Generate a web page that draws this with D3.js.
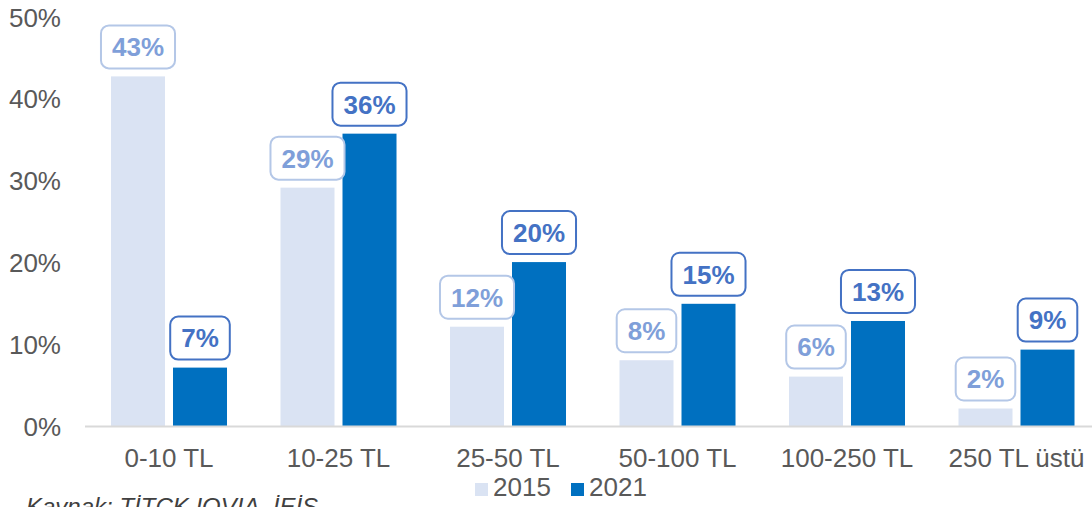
<!doctype html>
<html>
  <head>
    <meta charset="utf-8">
    <script src="https://cdnjs.cloudflare.com/ajax/libs/d3/7.8.5/d3.min.js"></script>
    <style>
      body { margin: 0; background: #fff; }
      svg { font-family: Arial, "Liberation Sans", sans-serif; display: block; }
      .tick-label { fill: #595959; font-size: 26px; }
      .legend-label { fill: #595959; font-size: 26px; }
      .source { fill: #404040; font-size: 24px; font-style: italic; }
      .val { font-size: 26px; font-weight: bold; }
    </style>
  </head>
  <body>
    <svg id="chart" width="1092" height="507"></svg>
    <script>
      var categories = ["0-10 TL", "10-25 TL", "25-50 TL", "50-100 TL", "100-250 TL", "250 TL üstü"];
      var seriesNames = ["2015", "2021"];
      var values2015 = [42.8, 29.2, 12.2, 8.1, 6.1, 2.2];
      var values2021 = [7.2, 35.8, 20.1, 15.0, 12.9, 9.4];
      var yTicks = [0, 10, 20, 30, 40, 50];

      var colors = { "2015": "#DAE3F3", "2021": "#0070C0" };
      var labelText = { "2015": "#7F9FD9", "2021": "#4472C4" };
      var labelStroke = { "2015": "#B4C7E7", "2021": "#4472C4" };

      var svg = d3.select("#chart");

      var x0 = d3.scaleBand()
        .domain(categories)
        .range([84.25, 1101.25])
        .paddingInner(0.3156)
        .paddingOuter(0.1578);

      var x1 = d3.scaleBand()
        .domain(seriesNames)
        .range([0, x0.bandwidth()])
        .paddingInner(8 / 62);

      var y = d3.scaleLinear()
        .domain([0, 50])
        .range([426.5, 17.5]);

      // y tick labels (no gridlines in the original)
      svg.selectAll("text.tick-label.y")
        .data(yTicks)
        .enter().append("text")
          .attr("class", "tick-label y")
          .attr("x", 61)
          .attr("y", d => y(d))
          .attr("dy", "0.35em")
          .attr("text-anchor", "end")
          .text(d => d + "%");

      var rows = categories.map((c, i) => ({
        cat: c,
        vals: [
          { s: "2015", v: values2015[i] },
          { s: "2021", v: values2021[i] }
        ]
      }));

      var groups = svg.selectAll("g.grp")
        .data(rows)
        .enter().append("g")
          .attr("class", "grp")
          .attr("transform", d => "translate(" + x0(d.cat) + ",0)");

      groups.selectAll("rect.bar")
        .data(d => d.vals)
        .enter().append("rect")
          .attr("class", "bar")
          .attr("x", d => x1(d.s))
          .attr("y", d => y(d.v))
          .attr("width", x1.bandwidth())
          .attr("height", d => y(0) - y(d.v))
          .attr("fill", d => colors[d.s]);

      // baseline
      svg.append("line")
        .attr("x1", 85).attr("x2", 1092)
        .attr("y1", y(0)).attr("y2", y(0))
        .attr("stroke", "#D9D9D9")
        .attr("stroke-width", 2);

      // data labels in rounded boxes
      var boxH = 43, gap = 8, padX = 11;
      groups.each(function(row) {
        var g = d3.select(this);
        row.vals.forEach(function(d) {
          var cx = x1(d.s) + x1.bandwidth() / 2;
          var bottom = y(d.v) - gap;
          var lg = g.append("g");
          var rect = lg.append("rect")
            .attr("y", bottom - boxH)
            .attr("height", boxH)
            .attr("rx", 8)
            .attr("fill", "#fff")
            .attr("stroke", labelStroke[d.s])
            .attr("stroke-width", 2);
          var t = lg.append("text")
            .attr("class", "val")
            .attr("x", cx)
            .attr("y", bottom - boxH / 2)
            .attr("dy", "0.36em")
            .attr("text-anchor", "middle")
            .attr("fill", labelText[d.s])
            .text(Math.round(d.v) + "%");
          var w = t.node().getComputedTextLength() + padX * 2;
          rect.attr("x", cx - w / 2).attr("width", w);
        });
      });

      // category labels
      svg.selectAll("text.tick-label.x")
        .data(categories)
        .enter().append("text")
          .attr("class", "tick-label x")
          .attr("x", d => x0(d) + x0.bandwidth() / 2)
          .attr("y", 467)
          .attr("text-anchor", "middle")
          .text(d => d);

      // legend
      var legendX = [475, 571];
      seriesNames.forEach(function(s, i) {
        svg.append("rect")
          .attr("x", legendX[i]).attr("y", 483)
          .attr("width", 13).attr("height", 13)
          .attr("fill", colors[s]);
        svg.append("text")
          .attr("class", "legend-label")
          .attr("x", legendX[i] + 18)
          .attr("y", 496)
          .text(s);
      });

      // source note, partly below the bottom edge as in the original
      svg.append("text")
        .attr("class", "source")
        .attr("x", 26)
        .attr("y", 515)
        .text("Kaynak: TİTCK IQVIA, İEİS");
    </script>
  </body>
</html>
